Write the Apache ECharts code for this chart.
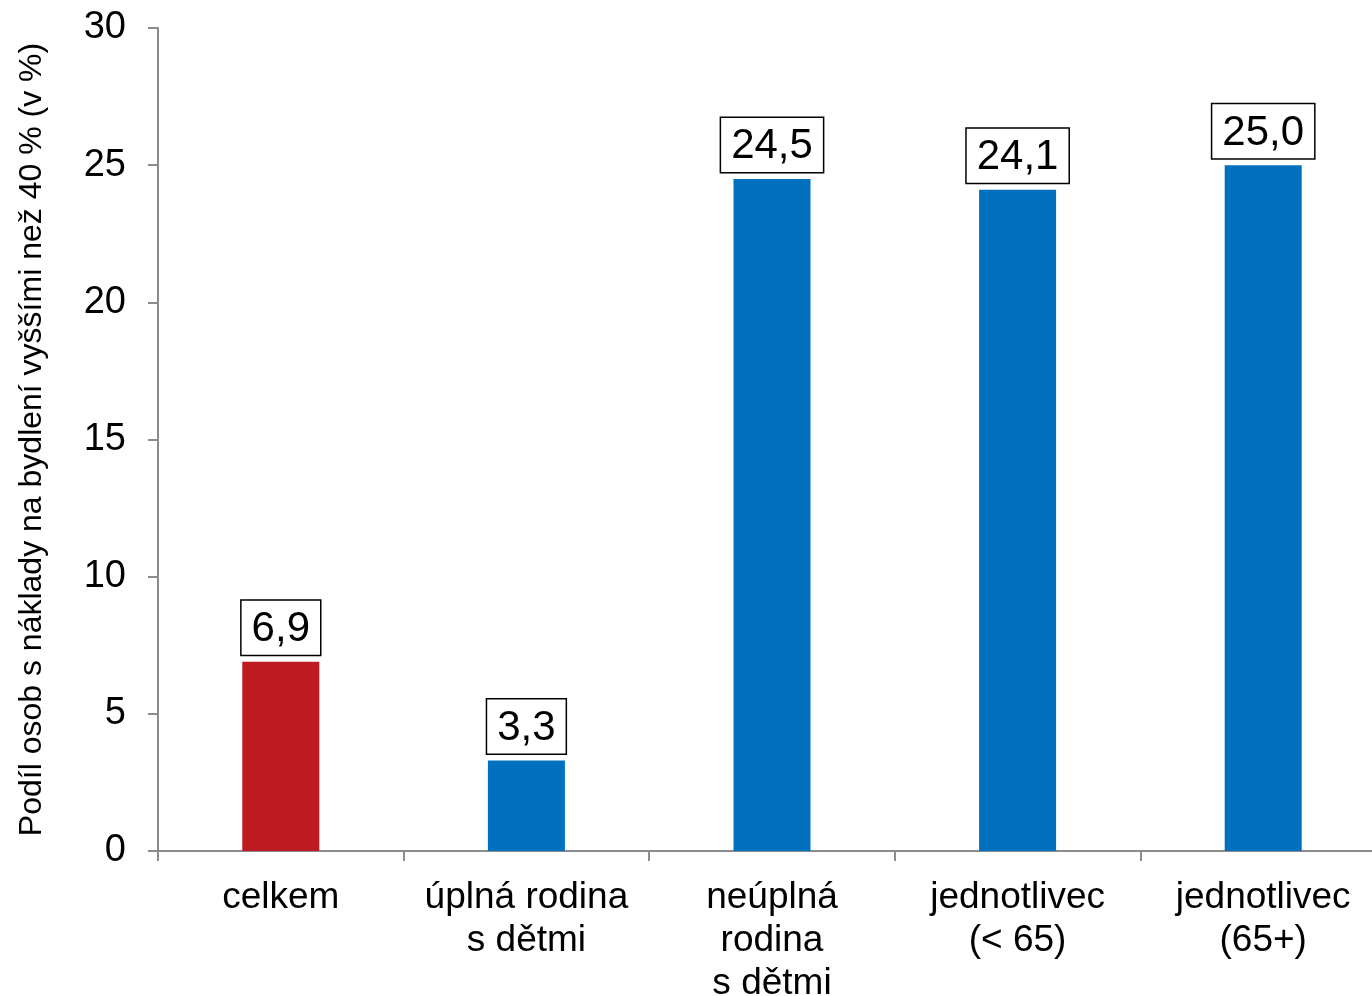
<!DOCTYPE html>
<html><head><meta charset="utf-8">
<script src="https://cdn.jsdelivr.net/npm/echarts@6/dist/echarts.min.js"></script>
<style>html,body{margin:0;padding:0;background:#fff}#c{width:1372px;height:996px}</style>
</head><body><div id="c"></div>
<script>
const categories = ['celkem', 'úplná rodina\ns dětmi', 'neúplná\nrodina\ns dětmi', 'jednotlivec\n(< 65)', 'jednotlivec\n(65+)'];
const values = [6.9, 3.3, 24.5, 24.1, 25.0];
const colors = ['#BE1A22', '#0070BF', '#0070BF', '#0070BF', '#0070BF'];
const yTitle = 'Podíl osob s náklady na bydlení vyššími než 40 % (v %)';

const chart = echarts.init(document.getElementById('c'), null, {renderer: 'canvas'});
chart.setOption({
  animation: false,
  textStyle: {fontFamily: 'Liberation Sans, Arial, sans-serif'},
  grid: {left: 158, top: 28, width: 1228, height: 823, containLabel: false, outerBoundsMode: 'none'},
  xAxis: {
    type: 'category',
    data: categories,
    axisLine: {lineStyle: {color: '#8c8c8c', width: 2}},
    axisTick: {show: true, length: 10, lineStyle: {color: '#8c8c8c', width: 2}},
    axisLabel: {color: '#000', fontSize: 37, lineHeight: 43, margin: 25, interval: 0, fontFamily: 'Liberation Sans, Arial, sans-serif'}
  },
  yAxis: {
    type: 'value',
    min: 0, max: 30, interval: 5,
    name: yTitle,
    nameLocation: 'middle',
    nameGap: 110,
    nameRotate: 90,
    nameTextStyle: {color: '#000', fontSize: 32, fontFamily: 'Liberation Sans, Arial, sans-serif'},
    axisLine: {show: true, lineStyle: {color: '#8c8c8c', width: 2}},
    axisTick: {show: true, length: 10, lineStyle: {color: '#8c8c8c', width: 2}},
    splitLine: {show: false},
    axisLabel: {color: '#000', fontSize: 38, margin: 32, fontFamily: 'Liberation Sans, Arial, sans-serif'}
  },
  series: [{
    type: 'bar',
    barWidth: 77,
    data: values.map((v, i) => ({value: v, itemStyle: {color: colors[i]}})),
    label: {
      show: true,
      position: 'top',
      distance: 7,
      color: '#000',
      fontSize: 42,
      fontFamily: 'Liberation Sans, Arial, sans-serif',
      backgroundColor: '#fff',
      borderColor: '#000',
      borderWidth: 1.5,
      padding: [8, 10, 4, 10],
      formatter: p => p.value.toFixed(1).replace('.', ',')
    }
  }]
});
</script></body></html>
